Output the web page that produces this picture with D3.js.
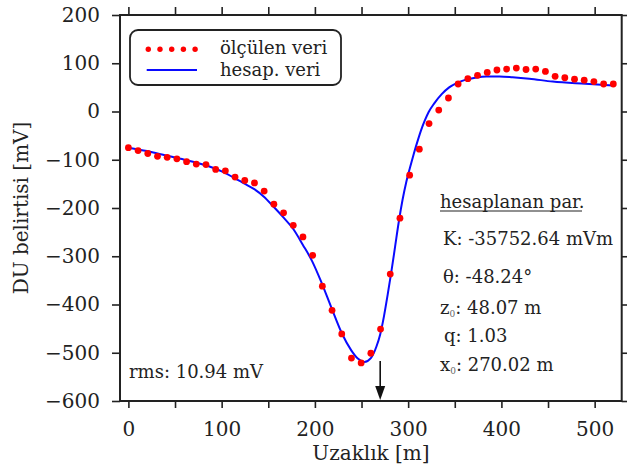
<!DOCTYPE html>
<html>
<head>
<meta charset="utf-8">
<script src="https://cdn.jsdelivr.net/npm/d3@7"></script>
<style>
  html, body { margin: 0; padding: 0; background: #fff; }
  svg { display: block; }
  text { font-family: "DejaVu Serif", serif; fill: #222; }
</style>
</head>
<body>
<div id="chart"></div>
<script>
// Measured self-potential profile (distance in m, anomaly in mV)
const distance = [
  0, 10.4, 20.8, 31.2, 41.6, 52, 62.4, 72.8, 83.2, 93.6,
  104, 114.4, 124.8, 135.2, 145.6, 156, 166.4, 176.8, 187.2, 197.6,
  208, 218.4, 228.8, 239.2, 249.6, 260, 270.4, 280.8, 291.2, 301.6,
  312, 322.4, 332.8, 343.2, 353.6, 364, 374.4, 384.8, 395.2, 405.6,
  416, 426.4, 436.8, 447.2, 457.6, 468, 478.4, 488.8, 499.2, 509.6, 520
];
const measured = [
  -75, -81, -87, -93, -95, -98, -104, -109, -110, -120,
  -123, -136, -143, -148, -165, -192, -210, -236, -260, -298,
  -362, -412, -461, -511, -521, -501, -451, -337, -221, -132,
  -78, -25, 3, 28, 57, 68, 75, 81, 86, 88,
  90, 87, 88, 83, 73, 70, 67, 65, 62, 57, 57
];

// Computed (fitted) curve
const fitX = [
  0, 20, 40, 60, 80, 100, 114, 124, 135, 145, 156, 166, 177, 187, 197,
  207, 218, 229, 239, 246, 253, 260, 266, 270, 274, 278, 282, 286, 290,
  294, 298, 302, 306, 310, 314, 318, 322, 328, 336, 344, 352, 362, 372,
  384, 398, 412, 430, 455, 490, 520
];
const fitY = [
  -75, -82, -91, -100, -110, -124, -138, -149, -161, -176, -198, -219, -244, -276, -310,
  -354, -408, -460, -495, -512, -519, -511, -487, -462, -425, -380, -332, -280, -228,
  -183, -146, -116, -88, -62, -38, -18, -1, 17, 36, 50, 59, 66, 70,
  72.5, 72.5, 71, 68, 62, 57.5, 54
];

const xTicks = [0, 100, 200, 300, 400, 500];
const xMinorTicks = [0, 50, 100, 150, 200, 250, 300, 350, 400, 450, 500];
const yTicks = [-600, -500, -400, -300, -200, -100, 0, 100, 200];

const legendLabels = ["ölçülen veri", "hesap. veri"];
const paramTitle = "hesaplanan par.";
const sourcePosition = 270.02; // x0 of the fitted source
const rmsLabel = "rms: 10.94 mV";

const W = 627, H = 470;
const plot = { left: 120, right: 621.7, top: 15, bottom: 401 };

const svg = d3.select("#chart").append("svg")
  .attr("width", W).attr("height", H);

const x = d3.scaleLinear().domain([-9, 529]).range([plot.left, plot.right]);
const y = d3.scaleLinear().domain([-600, 200]).range([plot.bottom, plot.top]);

const fmt = d3.format("d"); // uses the typographic minus sign

function styleAxis(g) {
  g.select(".domain").remove();
  g.selectAll(".tick line").attr("stroke", "#222").attr("stroke-width", 1.6);
  g.selectAll(".tick text").style("font-family", "DejaVu Serif, serif")
    .style("font-size", "20px").attr("fill", "#222");
}

// bottom axis: ticks every 50, labels every 100
svg.append("g")
  .attr("transform", `translate(0,${plot.bottom})`)
  .call(d3.axisBottom(x).tickValues(xMinorTicks).tickSize(7).tickPadding(14)
    .tickFormat(d => xTicks.includes(d) ? fmt(d) : ""))
  .call(styleAxis);

// top axis: ticks only
svg.append("g")
  .attr("transform", `translate(0,${plot.top})`)
  .call(d3.axisTop(x).tickValues(xMinorTicks).tickSize(8).tickFormat(""))
  .call(styleAxis);

// left axis
svg.append("g")
  .attr("transform", `translate(${plot.left},0)`)
  .call(d3.axisLeft(y).tickValues(yTicks).tickSize(8).tickPadding(12).tickFormat(fmt))
  .call(styleAxis);

// right axis: ticks only
svg.append("g")
  .attr("transform", `translate(${plot.right},0)`)
  .call(d3.axisRight(y).tickValues(yTicks).tickSize(8).tickFormat(""))
  .call(styleAxis);

// frame
svg.append("rect")
  .attr("x", plot.left).attr("y", plot.top)
  .attr("width", plot.right - plot.left).attr("height", plot.bottom - plot.top)
  .attr("fill", "none").attr("stroke", "#222").attr("stroke-width", 2);

// fitted curve
const line = d3.line().x((d, i) => x(fitX[i])).y(d => y(d)).curve(d3.curveMonotoneX);
svg.append("path")
  .datum(fitY)
  .attr("d", line)
  .attr("fill", "none")
  .attr("stroke", "#0a0aff")
  .attr("stroke-width", 2);

// measured points
svg.append("g").selectAll("circle")
  .data(measured)
  .join("circle")
  .attr("cx", (d, i) => x(distance[i]))
  .attr("cy", d => y(d))
  .attr("r", 3.4)
  .attr("fill", "#ff0000");

// source position arrow
const ax = x(sourcePosition);
svg.append("line")
  .attr("x1", ax).attr("x2", ax)
  .attr("y1", 361).attr("y2", 388)
  .attr("stroke", "#111").attr("stroke-width", 1.6);
svg.append("path")
  .attr("d", `M${ax - 5},${386} L${ax + 5},${386} L${ax},${plot.bottom - 1} Z`)
  .attr("fill", "#111");

// legend
const lg = svg.append("g");
lg.append("rect")
  .attr("x", 130).attr("y", 30).attr("width", 211).attr("height", 55)
  .attr("rx", 8).attr("ry", 8)
  .attr("fill", "#fff").attr("stroke", "#222").attr("stroke-width", 1.8);
lg.append("g").selectAll("circle")
  .data(d3.range(5))
  .join("circle")
  .attr("cx", i => 148.3 + i * 11.7)
  .attr("cy", 49.3)
  .attr("r", 2.7)
  .attr("fill", "#ff0000");
lg.append("line")
  .attr("x1", 146.7).attr("x2", 197).attr("y1", 70).attr("y2", 70)
  .attr("stroke", "#0a0aff").attr("stroke-width", 2);
lg.selectAll("text.lab")
  .data(legendLabels)
  .join("text")
  .attr("class", "lab")
  .attr("x", 220)
  .attr("y", (d, i) => i === 0 ? 54.3 : 75.5)
  .style("font-size", "18px")
  .text(d => d);

// fitted parameters
const pg = svg.append("g").style("font-size", "18px");
pg.append("text").attr("x", 440).attr("y", 207.5).text(paramTitle);
pg.append("line")
  .attr("x1", 440).attr("x2", 582).attr("y1", 211).attr("y2", 211)
  .attr("stroke", "#222").attr("stroke-width", 1.2);

pg.append("text").attr("x", 443).attr("y", 245).text("K: -35752.64 mVm");
pg.append("text").attr("x", 443).attr("y", 282.5).text("θ: -48.24°");

const z0 = pg.append("text").attr("x", 440).attr("y", 313.5);
z0.append("tspan").text("z");
z0.append("tspan").attr("dy", 3).style("font-size", "9px").attr("fill", "#666").text("0");
z0.append("tspan").attr("dy", -3).text(": 48.07 m");

pg.append("text").attr("x", 444).attr("y", 341.5).text("q: 1.03");

const x0 = pg.append("text").attr("x", 440).attr("y", 371);
x0.append("tspan").text("x");
x0.append("tspan").attr("dy", 3).style("font-size", "9px").attr("fill", "#666").text("0");
x0.append("tspan").attr("dy", -3).text(": 270.02 m");

// rms
svg.append("text").attr("x", 129).attr("y", 378).style("font-size", "18px").text(rmsLabel);

// axis titles
svg.append("text")
  .attr("x", 371).attr("y", 460)
  .attr("text-anchor", "middle")
  .style("font-size", "20px")
  .text("Uzaklık [m]");
svg.append("text")
  .attr("transform", "translate(28,208) rotate(-90)")
  .attr("text-anchor", "middle")
  .style("font-size", "20px")
  .text("DU belirtisi [mV]");
</script>
</body>
</html>
